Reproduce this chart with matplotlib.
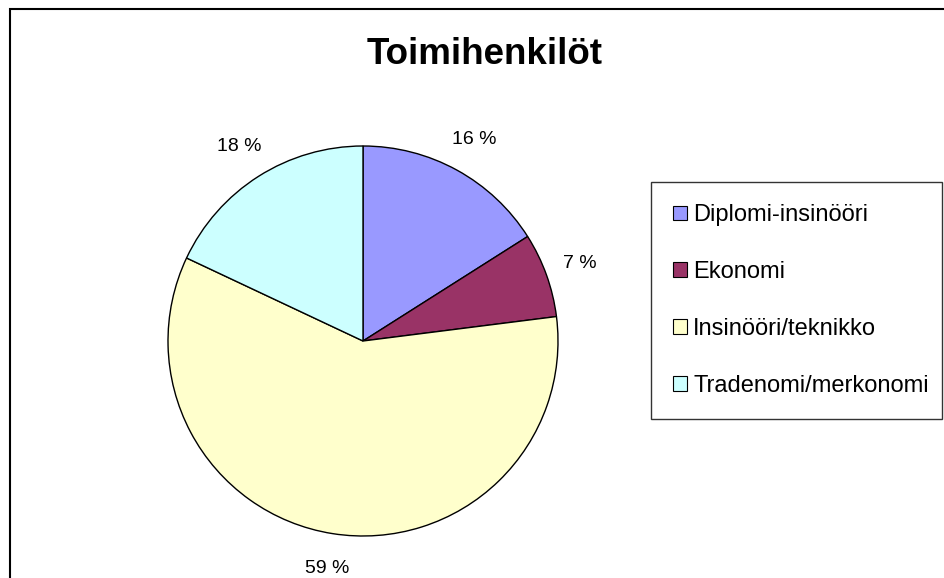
import matplotlib
matplotlib.use("Agg")
import matplotlib.pyplot as plt
from matplotlib.patches import Rectangle

plt.rcParams['font.family'] = ['Liberation Sans', 'DejaVu Sans']

title = "Toimihenkilöt"
categories = ["Diplomi-insinööri", "Ekonomi", "Insinööri/teknikko", "Tradenomi/merkonomi"]
values = [16, 7, 59, 18]
colors = ["#9999FF", "#993366", "#FFFFCC", "#CCFFFF"]

W, H = 945, 578
fig = plt.figure(figsize=(W / 100, H / 100), dpi=100)
fig.patch.set_facecolor("white")

# outer chart border (cut off at right/bottom)
fig.patches.append(Rectangle((10 / W, -0.1), 2.0, (H - 9) / H + 0.1, transform=fig.transFigure,
                             fill=False, edgecolor="black", linewidth=1.5))

cx, cy, r = 363, 578 - 341, 195
ax = fig.add_axes([(cx - r) / W, (cy - r) / H, 2 * r / W, 2 * r / H])
wedges, texts, autotexts = ax.pie(values, colors=colors, startangle=90, counterclock=False,
                                  autopct=lambda p: f"{p:.0f} %", pctdistance=1.18,
                                  wedgeprops=dict(edgecolor="black", linewidth=1.0),
                                  textprops=dict(fontsize=14))
ax.set_xlim(-1, 1)
ax.set_ylim(-1, 1)
ax.set_aspect("equal")
ax.axis("off")

fig.text(485 / W, 1 - 54 / H, title, ha="center", va="center", fontsize=26.5, fontweight="bold")

leg = fig.legend(wedges, categories, loc="upper left",
                 bbox_to_anchor=(651 / W, 1 - 182 / H, (942 - 651) / W, 0.0), mode="expand",
                 fontsize=17, frameon=True, fancybox=False, edgecolor="black",
                 handlelength=0.58, handleheight=0.58, handletextpad=0.25,
                 labelspacing=1.47, borderpad=0.95, borderaxespad=0)
leg.get_frame().set_linewidth(1.0)
for h in leg.legend_handles:
    h.set_edgecolor("black")
    h.set_linewidth(0.8)

fig.savefig("out.png", dpi=100)
